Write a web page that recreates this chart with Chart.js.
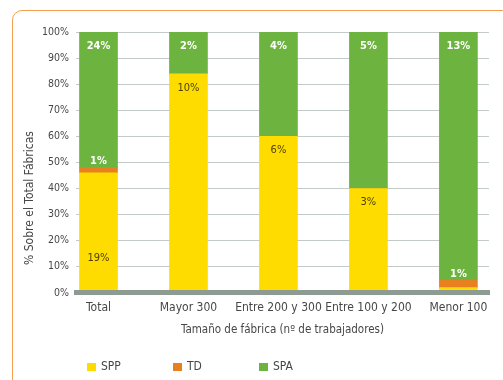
<!DOCTYPE html>
<html lang="es">
<head>
<meta charset="utf-8">
<title>Tamaño de fábrica</title>
<script src="https://cdn.jsdelivr.net/npm/chart.js@4.4.1/dist/chart.umd.min.js"></script>
<style>
  html, body { margin: 0; padding: 0; background: #fff; overflow: hidden; }
  #wrap { position: relative; width: 503px; height: 380px; }
  #frame {
    position: absolute; left: 12px; top: 10px; width: 560px; height: 440px;
    border: 1.5px solid #f4a04e; border-radius: 10px;
  }
  #chart { position: absolute; left: 0; top: 0; }
</style>
</head>
<body>
<div id="wrap">
  <div id="frame"></div>
  <canvas id="chart" width="503" height="380"></canvas>
</div>
<script>
// Categorias y valores (% sobre el total de fabricas de cada grupo)
var categorias = ['Total', 'Mayor 300', 'Entre 200 y 300', 'Entre 100 y 200', 'Menor 100'];
var series = ['SPP', 'TD', 'SPA'];
var spp = [46, 84, 60, 40, 2];
var td = [2, 0, 0, 0, 3];
var spa = [52, 16, 40, 60, 95];

// Rotulos que van sobre cada tramo
var rotulosSpp = ['19%', '10%', '6%', '3%', ''];
var rotulosTd = ['1%', '', '', '', '1%'];
var rotulosSpa = ['24%', '2%', '4%', '5%', '13%'];

var colores = ['#ffdc00', '#e8801f', '#6db33f'];
var FUENTE = "'Liberation Sans Narrow', 'DejaVu Sans Condensed', sans-serif";
var GRIS = '#474747';

Chart.defaults.font.family = FUENTE;
Chart.defaults.color = GRIS;

function puntos(arr) {
  return arr.map(function(v, i) { return { x: i, y: v }; });
}

// Rotulos de valor, titulo vertical y leyenda
var extras = {
  id: 'extras',
  afterDatasetsDraw: function(chart) {
    var ctx = chart.ctx;
    ctx.save();
    ctx.textAlign = 'center';
    ctx.textBaseline = 'middle';
    chart.data.datasets.forEach(function(ds, di) {
      var meta = chart.getDatasetMeta(di);
      meta.data.forEach(function(bar, i) {
        var txt = ds.rotulos[i];
        if (!txt) return;
        var ancla = ds.anclas[i];
        var y;
        if (ancla === 'base') y = bar.base - 34;
        else if (ancla === 'arriba') y = bar.y - 6;
        else y = bar.y + 14;
        ctx.font = (ds.negrita ? 'bold ' : '') + '11px ' + FUENTE;
        ctx.fillStyle = ds.colorRotulo;
        ctx.fillText(txt, bar.x, y);
      });
    });
    ctx.restore();
  },
  afterDraw: function(chart) {
    var ctx = chart.ctx;
    ctx.save();
    // titulo del eje Y
    ctx.font = '12px ' + FUENTE;
    ctx.fillStyle = GRIS;
    ctx.textAlign = 'center';
    ctx.textBaseline = 'middle';
    ctx.translate(30, 198);
    ctx.rotate(-Math.PI / 2);
    ctx.fillText('% Sobre el Total Fábricas', 0, 0);
    ctx.restore();

    // leyenda
    ctx.save();
    ctx.font = '12px ' + FUENTE;
    ctx.textBaseline = 'middle';
    ctx.textAlign = 'left';
    chart.data.datasets.forEach(function(ds, di) {
      var x = 87 + di * 86;
      var y = 367;
      ctx.fillStyle = ds.backgroundColor;
      ctx.fillRect(x, y - 4, 9, 8);
      ctx.fillStyle = GRIS;
      ctx.fillText(ds.label, x + 14, y);
    });
    ctx.restore();
  }
};

new Chart(document.getElementById('chart'), {
  type: 'bar',
  data: {
    datasets: [
      {
        label: series[0], data: puntos(spp), backgroundColor: colores[0],
        rotulos: rotulosSpp, colorRotulo: '#4d4300', negrita: false,
        anclas: ['base', 'fin', 'fin', 'fin', 'fin']
      },
      {
        label: series[1], data: puntos(td), backgroundColor: colores[1],
        rotulos: rotulosTd, colorRotulo: '#ffffff', negrita: true,
        anclas: ['arriba', 'arriba', 'arriba', 'arriba', 'arriba']
      },
      {
        label: series[2], data: puntos(spa), backgroundColor: colores[2],
        rotulos: rotulosSpa, colorRotulo: '#ffffff', negrita: true,
        anclas: ['fin', 'fin', 'fin', 'fin', 'fin']
      }
    ]
  },
  options: {
    responsive: false,
    animation: false,
    datasets: { bar: { barThickness: 38 } },
    layout: { padding: { left: 18, top: 32, right: 14, bottom: 39 } },
    plugins: {
      legend: { display: false },
      tooltip: { enabled: false }
    },
    scales: {
      x: {
        type: 'linear',
        stacked: true,
        offset: false,
        min: -0.25,
        max: 4.34,
        grid: { display: false, drawTicks: false },
        border: { color: '#8d9b93', width: 5, z: 1 },
        ticks: {
          stepSize: 1,
          includeBounds: false,
          autoSkip: false,
          maxRotation: 0,
          padding: 8,
          font: { size: 12 },
          color: GRIS,
          callback: function(v) { return categorias[v]; }
        },
        title: {
          display: true,
          text: 'Tamaño de fábrica (nº de trabajadores)',
          font: { size: 11.5 },
          color: GRIS,
          padding: { top: 0, bottom: 4 }
        }
      },
      y: {
        stacked: true,
        min: 0,
        max: 100,
        border: { display: false },
        grid: { color: '#c3cbc7', drawTicks: false },
        ticks: {
          stepSize: 10,
          padding: 7,
          font: { size: 10.5 },
          color: GRIS,
          callback: function(v) { return v + '%'; }
        },
        afterFit: function(scale) { scale.width = 58; }
      }
    }
  },
  plugins: [extras]
});
</script>
</body>
</html>
